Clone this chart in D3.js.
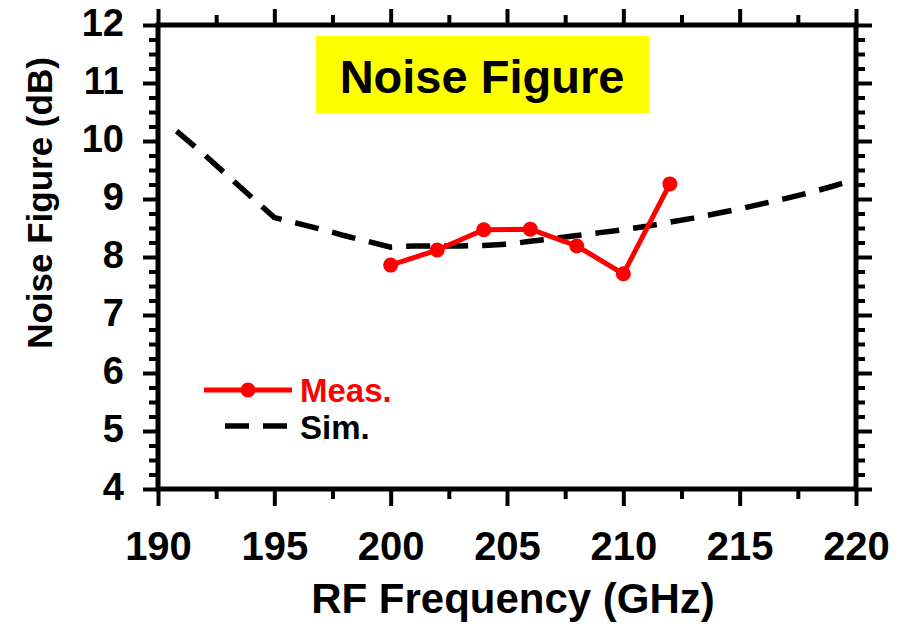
<!DOCTYPE html>
<html>
<head>
<meta charset="utf-8">
<script src="https://cdn.jsdelivr.net/npm/d3@7"></script>
<style>
  html, body { margin: 0; padding: 0; background: #fff; }
  svg { display: block; }
  text { font-family: "Liberation Sans", Arial, Helvetica, sans-serif; font-weight: bold; }
</style>
</head>
<body>
<svg id="chart" width="904" height="626"></svg>
<script>
// ---- data ----
const xTickValues = [190, 195, 200, 205, 210, 215, 220];
const xMinorValues = [192.5, 197.5, 202.5, 207.5, 212.5, 217.5];
const yTickValues = [4, 5, 6, 7, 8, 9, 10, 11, 12];
const yMinorValues = [4.25, 4.5, 4.75, 5.25, 5.5, 5.75, 6.25, 6.5, 6.75, 7.25, 7.5, 7.75,
                      8.25, 8.5, 8.75, 9.25, 9.5, 9.75, 10.25, 10.5, 10.75, 11.25, 11.5, 11.75];
const measFreq = [200, 202, 204, 206, 208, 210, 212];
const measNF   = [7.86, 8.12, 8.47, 8.48, 8.19, 7.71, 9.26];
const simFreq = [190.8, 192, 193, 194, 195, 196, 197, 198, 199, 200, 201, 202, 203, 204, 205,
                 206, 207, 208, 209, 210, 211, 212, 213, 214, 215, 216, 217, 218, 219, 220];
const simNF   = [10.17, 9.76, 9.4, 9.04, 8.68, 8.58, 8.48, 8.37, 8.27, 8.17, 8.19, 8.19, 8.19, 8.2, 8.22,
                 8.27, 8.32, 8.37, 8.42, 8.47, 8.53, 8.6, 8.67, 8.75, 8.83, 8.92, 9.01, 9.11, 9.22, 9.34];
const titleText = "Noise Figure";
const xLabel = "RF Frequency (GHz)";
const yLabel = "Noise Figure (dB)";
const legendLabels = ["Meas.", "Sim."];

// ---- layout ----
const svg = d3.select("#chart");
const L = 158, R = 856, T = 25, B = 489;
const x = d3.scaleLinear().domain([190, 220]).range([L, R]);
const y = d3.scaleLinear().domain([4, 12]).range([B, T]);

function styleAxis(g) {
  g.select(".domain").remove();
  g.selectAll(".tick line").attr("stroke", "#000").attr("stroke-width", 4);
}

// minor ticks
svg.append("g").attr("transform", `translate(0,${B})`)
  .call(d3.axisBottom(x).tickValues(xMinorValues).tickSize(10).tickFormat(""))
  .call(styleAxis);
svg.append("g").attr("transform", `translate(0,${T})`)
  .call(d3.axisTop(x).tickValues(xMinorValues).tickSize(10).tickFormat(""))
  .call(styleAxis);
svg.append("g").attr("transform", `translate(${L},0)`)
  .call(d3.axisLeft(y).tickValues(yMinorValues).tickSize(9).tickFormat(""))
  .call(styleAxis);
svg.append("g").attr("transform", `translate(${R},0)`)
  .call(d3.axisRight(y).tickValues(yMinorValues).tickSize(9).tickFormat(""))
  .call(styleAxis);

// major ticks
const xb = svg.append("g").attr("transform", `translate(0,${B})`)
  .call(d3.axisBottom(x).tickValues(xTickValues).tickSize(17).tickPadding(6).tickFormat(d3.format("d")))
  .call(styleAxis);
xb.selectAll(".tick text").attr("font-size", 40).attr("fill", "#000")
  .attr("dy", null).attr("y", 71);
svg.append("g").attr("transform", `translate(0,${T})`)
  .call(d3.axisTop(x).tickValues(xTickValues).tickSize(16).tickFormat(""))
  .call(styleAxis);
const yl = svg.append("g").attr("transform", `translate(${L},0)`)
  .call(d3.axisLeft(y).tickValues(yTickValues).tickSize(15).tickFormat(d3.format("d")))
  .call(styleAxis);
yl.selectAll(".tick text").attr("font-size", 38).attr("fill", "#000")
  .attr("x", -34).attr("dy", null).attr("y", 10.5);
svg.append("g").attr("transform", `translate(${R},0)`)
  .call(d3.axisRight(y).tickValues(yTickValues).tickSize(16).tickFormat(""))
  .call(styleAxis);

// frame
svg.append("rect").attr("x", L).attr("y", T).attr("width", R - L).attr("height", B - T)
  .attr("fill", "none").attr("stroke", "#000").attr("stroke-width", 5);

// axis labels
svg.append("text").attr("x", 513).attr("y", 613).attr("text-anchor", "middle")
  .attr("font-size", 42).attr("fill", "#000").text(xLabel);
svg.append("text").attr("transform", "translate(52,203) rotate(-90)")
  .attr("text-anchor", "middle").attr("font-size", 35).attr("fill", "#000").text(yLabel);

// title box
svg.append("rect").attr("x", 316).attr("y", 36).attr("width", 333).attr("height", 77)
  .attr("fill", "#ffff00");
svg.append("text").attr("x", 482).attr("y", 93).attr("text-anchor", "middle")
  .attr("font-size", 47).attr("fill", "#000").text(titleText);

// sim line
const simData = simFreq.map((f, i) => [f, simNF[i]]);
const line = d3.line().x(d => x(d[0])).y(d => y(d[1]));
svg.append("path").datum(simData).attr("d", line)
  .attr("fill", "none").attr("stroke", "#000").attr("stroke-width", 5.5)
  .attr("stroke-dasharray", "24,14");

// meas line
const measData = measFreq.map((f, i) => [f, measNF[i]]);
svg.append("path").datum(measData).attr("d", line)
  .attr("fill", "none").attr("stroke", "#ff0000").attr("stroke-width", 5)
  .attr("stroke-linejoin", "round");
svg.selectAll("circle.meas").data(measData).enter().append("circle")
  .attr("class", "meas").attr("cx", d => x(d[0])).attr("cy", d => y(d[1]))
  .attr("r", 7.5).attr("fill", "#ff0000");

// legend
const lg = svg.append("g");
lg.append("line").attr("x1", 204).attr("x2", 292).attr("y1", 390).attr("y2", 390)
  .attr("stroke", "#ff0000").attr("stroke-width", 5);
lg.append("circle").attr("cx", 248).attr("cy", 390).attr("r", 7.5).attr("fill", "#ff0000");
lg.append("text").attr("x", 300).attr("y", 402).attr("font-size", 33).attr("fill", "#ff0000")
  .text(legendLabels[0]);
lg.append("line").attr("x1", 225).attr("x2", 287).attr("y1", 426).attr("y2", 426)
  .attr("stroke", "#000").attr("stroke-width", 5.5).attr("stroke-dasharray", "24,14");
lg.append("text").attr("x", 300).attr("y", 439).attr("font-size", 33).attr("fill", "#000")
  .text(legendLabels[1]);
</script>
</body>
</html>
